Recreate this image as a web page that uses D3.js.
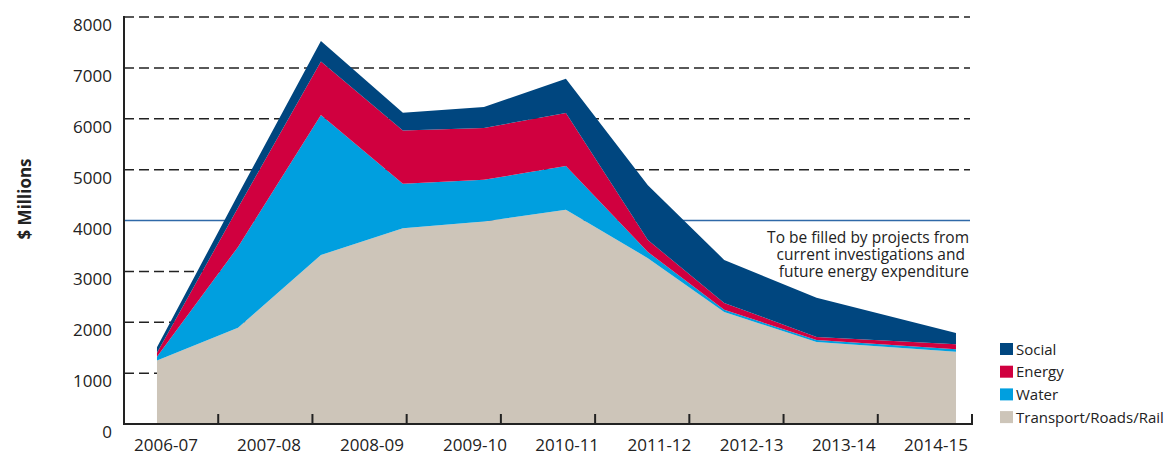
<!DOCTYPE html>
<meta charset="utf-8">
<style>
body { margin: 0; background: #fff; }
text { font-family: "Open Sans", sans-serif; fill: #222; }
.grid { stroke: #222; stroke-width: 1.5px; stroke-dasharray: 10,5; }
.axis-line { stroke: #222; stroke-width: 2px; }
</style>
<svg width="1166" height="456"></svg>
<script src="https://d3js.org/d3.v7.min.js"></script>
<script>

// financial years shown on the axis
var years = ["2006-07", "2007-08", "2008-09", "2009-10", "2010-11", "2011-12", "2012-13", "2013-14", "2014-15"];

// where each plotted point sits, in years after July 2006
var pointTime = [0.35, 1.21, 2.09, 2.96, 3.82, 4.69, 5.56, 6.37, 7.35, 8.83];

// $ millions per series (stack bottom to top)
var transport = [1250, 1890, 3320, 3850, 3980, 4210, 3260, 2200, 1610, 1420];
var water     = [  70, 1590, 2755,  870,  820,  860,  120,   45,   40,   50];
var energy    = [  80,  770, 1050, 1050, 1020, 1045,  235,  135,   60,  100];
var social    = [ 110,  255,  405,  350,  410,  670, 1080,  845,  770,  220];

var yTicks = [0, 1000, 2000, 3000, 4000, 5000, 6000, 7000, 8000];
var targetLine = 4000;

var seriesKeys = ["transport", "water", "energy", "social"];
var seriesNames = { transport: "Transport/Roads/Rail", water: "Water", energy: "Energy", social: "Social" };
var colour = { transport: "#cdc5b9", water: "#009fdf", energy: "#d0003f", social: "#00467f" };

var rows = pointTime.map(function(t, i) {
  return { t: t, transport: transport[i], water: water[i], energy: energy[i], social: social[i] };
});

var svg = d3.select("svg");
var plotLeft = 124, plotRight = 972, plotTop = 17, plotBottom = 424;

var x = d3.scaleLinear().domain([0, years.length]).range([plotLeft, plotRight]);
// the year labels in the original drift a little: wider apart on the left
var xLabel = d3.scaleLinear().domain([0, 3, years.length - 1]).range([166, 475, 936]);
var y = d3.scaleLinear().domain([0, 8000]).range([plotBottom, plotTop]);

// gridlines; below the target line the space right of the peak is left blank
// ("to be filled"), so those only run as far as the areas cover them
svg.append("g").selectAll("line")
  .data(yTicks.filter(function(v) { return v > 0 && v !== targetLine; }))
  .enter().append("line")
    .attr("class", "grid")
    .attr("x1", plotLeft)
    .attr("x2", function(d) { return d > targetLine ? plotRight - 2 : x(pointTime[2]); })
    .attr("y1", function(d) { return y(d); })
    .attr("y2", function(d) { return y(d); });

svg.append("line")
  .attr("x1", plotLeft).attr("x2", plotRight - 2)
  .attr("y1", y(targetLine)).attr("y2", y(targetLine))
  .style("stroke", "#2f69a8").style("stroke-width", 1.5);

var stack = d3.stack().keys(seriesKeys);
var area = d3.area()
  .x(function(d) { return x(d.data.t); })
  .y0(function(d) { return y(d[0]); })
  .y1(function(d) { return y(d[1]); });

svg.append("g").selectAll("path")
  .data(stack(rows))
  .enter().append("path")
    .attr("d", area)
    .style("fill", function(d) { return colour[d.key]; });

// axes
svg.append("line").attr("class", "axis-line")
  .attr("x1", plotLeft).attr("x2", plotLeft).attr("y1", plotTop - 1).attr("y2", plotBottom + 1);
svg.append("line").attr("class", "axis-line")
  .attr("x1", plotLeft - 1).attr("x2", plotRight + 1).attr("y1", plotBottom).attr("y2", plotBottom);

svg.append("g").selectAll("line")
  .data(d3.range(1, years.length + 1))
  .enter().append("line").attr("class", "axis-line")
    .attr("x1", function(d) { return x(d); })
    .attr("x2", function(d) { return x(d); })
    .attr("y1", plotBottom - 10).attr("y2", plotBottom);

svg.append("g").selectAll("text")
  .data(yTicks)
  .enter().append("text")
    .attr("x", 112)
    .attr("y", function(d) { return y(d) + 14; })
    .attr("text-anchor", "end")
    .style("font-size", "17px")
    .text(function(d) { return d; });

svg.append("g").selectAll("text")
  .data(years)
  .enter().append("text")
    .attr("x", function(d, i) { return xLabel(i); })
    .attr("y", 451)
    .attr("text-anchor", "middle")
    .style("font-size", "17px")
    .text(function(d) { return d; });

svg.append("text")
  .attr("transform", "translate(31,199) rotate(-90)")
  .attr("text-anchor", "middle")
  .style("font-size", "17px")
  .style("font-weight", "bold")
  .text("$ Millions");

// note under the target line
var note = ["To be filled by projects from", "current investigations and ", "future energy expenditure"];
svg.append("text")
  .attr("text-anchor", "end")
  .style("font-size", "15.5px")
  .attr("xml:space", "preserve")
  .selectAll("tspan")
  .data(note)
  .enter().append("tspan")
    .attr("x", 969)
    .attr("y", function(d, i) { return 243 + i * 17; })
    .text(function(d) { return d; });

// legend
var legend = svg.append("g").selectAll("g")
  .data(seriesKeys.slice().reverse())
  .enter().append("g")
    .attr("transform", function(d, i) { return "translate(1000," + (343 + i * 22.7) + ")"; });

legend.append("rect")
  .attr("width", 13).attr("height", 12)
  .style("fill", function(d) { return colour[d]; });

legend.append("text")
  .attr("x", 16).attr("y", 11.5)
  .style("font-size", "15px")
  .text(function(d) { return seriesNames[d]; });

</script>
